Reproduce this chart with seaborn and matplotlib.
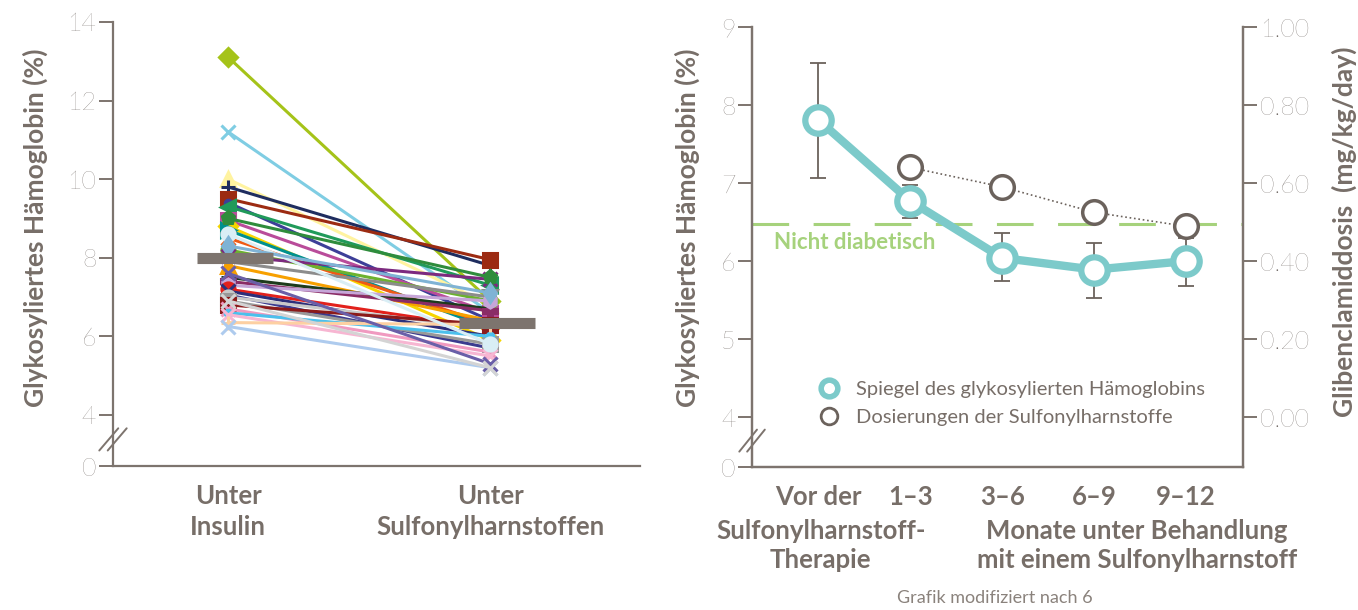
import numpy as np
import pandas as pd
import matplotlib.pyplot as plt
import seaborn as sns
from matplotlib.lines import Line2D

# ---------------- Daten ----------------
# Links: HbA1c je Patient unter Insulin bzw. unter Sulfonylharnstoffen
zustaende = ["Unter\nInsulin", "Unter\nSulfonylharnstoffen"]
hba1c_insulin = [13.1, 11.2, 10.0, 9.8, 9.5, 9.4, 9.3, 8.95, 8.8, 8.7, 8.5, 8.2, 8.05, 7.9,
                 7.8, 7.5, 7.4, 7.3, 7.2, 7.15, 7.05, 7.0, 6.9, 6.8, 6.7, 6.6, 6.55, 6.35,
                 6.25, 7.6, 8.6, 6.9, 9.0, 8.3]
hba1c_sulfo = [6.9, 6.6, 6.8, 7.8, 7.95, 6.4, 7.3, 6.6, 5.9, 6.2, 6.3, 6.9, 7.45, 7.0,
               6.4, 6.7, 6.65, 6.9, 6.2, 6.0, 5.7, 6.2, 5.8, 6.3, 5.6, 6.0, 5.5, 6.3,
               5.2, 5.3, 5.8, 5.2, 7.5, 7.1]
farben = ["#a5c319", "#7fcde3", "#fff3a0", "#1f2d5f", "#9c2b12", "#3d3f98", "#219a5a",
          "#b94c9a", "#f7d500", "#00908f", "#f05a14", "#6cb22f", "#7c2a7f", "#8c8c8c",
          "#f7a000", "#1d3b1c", "#8a2c66", "#c6a6d8", "#e2211c", "#2c2f7a", "#3b3b8f",
          "#c8c8c8", "#999999", "#8b1a1a", "#f09ac0", "#4cc0ec", "#f7b6d2", "#fdd0a2",
          "#aecbee", "#6a5fa8", "#d9eef5", "#d4d4d4", "#2f8c3c", "#7fb3d5"]
marker = ["D", "x", "^", "+", "s", ".", "<", "s", "D", ">", "x", "o", "x", "v",
          "^", "_", "P", "h", "o", "x", "_", "o", "s", "s", "x", ".", "x", "+",
          "x", "x", "o", "x", "p", "d"]
mittelwerte = [8.0, 6.33]

# Rechts: Verlauf nach Umstellung
zeitpunkte = ["Vor der", "1–3", "3–6", "6–9", "9–12"]
hba1c_mittel = [7.81, 6.77, 6.04, 5.89, 6.0]
hba1c_fehler_oben = [8.54, 6.98, 6.36, 6.23, 6.29]
hba1c_fehler_unten = [7.07, 6.55, 5.75, 5.53, 5.68]
dosis_zeitpunkte = ["1–3", "3–6", "6–9", "9–12"]
dosis = [0.64, 0.59, 0.525, 0.489]
nicht_diabetisch = 6.47

# ---------------- Stil ----------------
sns.set_theme(style="white")
plt.rcParams["font.family"] = ["Lato", "DejaVu Sans"]
grau = "#7d746e"
text_grau = "#776e68"
zahl_grau = "#655d58"
tuerkis = "#7ccaca"
dosis_grau = "#6b625c"
gruen = "#a6d27c"

fig = plt.figure(figsize=(13.58, 6.1), dpi=100)
fig.patch.set_facecolor("white")


def achse_stylen(ax):
    for s in ["left", "bottom", "right"]:
        ax.spines[s].set_color(grau)
        ax.spines[s].set_linewidth(1.6)
    ax.spines["top"].set_visible(False)
    ax.tick_params(axis="y", colors=grau, labelcolor=zahl_grau, length=10, width=1.4,
                   labelsize=18, pad=2, left=True)
    ax.tick_params(axis="x", length=0, labelcolor=text_grau, labelsize=18.5, pad=13)
    for lab in ax.get_yticklabels():
        lab.set_fontweight("light")
    for lab in ax.get_xticklabels():
        lab.set_fontweight("bold")


def achsenbruch(ax):
    for dx in [-0.008, 0.008]:
        ax.plot([-0.018 + dx, 0.018 + dx], [0.035, 0.085], transform=ax.transAxes,
                color=grau, lw=1.4, clip_on=False)


# ---------------- Linkes Diagramm ----------------
ax1 = fig.add_axes([0.0832, 0.236, 0.388, 0.728])
x_pos = np.arange(len(zustaende))
for i in range(len(hba1c_insulin)):
    df_p = pd.DataFrame({"x": x_pos, "wert": [hba1c_insulin[i], hba1c_sulfo[i]]})
    sns.lineplot(data=df_p, x="x", y="wert", color=farben[i], marker=marker[i],
                 markersize=9.5, markeredgewidth=2.2, markeredgecolor=farben[i],
                 linewidth=2.2, ax=ax1, sort=False)
ax1.hlines(mittelwerte, x_pos - 0.12, x_pos + 0.17, color="#7d746e", lw=8, zorder=5)

ax1.set_ylim(2.7, 14)
ax1.set_xlim(-0.44, 1.57)
ax1.set_yticks([2.7, 4, 6, 8, 10, 12, 14])
ax1.set_yticklabels(["0", "4", "6", "8", "10", "12", "14"])
ax1.set_xticks(x_pos)
ax1.set_xticklabels(zustaende, linespacing=1.35)
ax1.spines["right"].set_visible(False)
achse_stylen(ax1)
ax1.set_xlabel("")
ax1.set_ylabel("Glykosyliertes Hämoglobin (%)", fontsize=19, fontweight="bold",
               color=text_grau)
ax1.yaxis.set_label_coords(-0.123, 0.536)
achsenbruch(ax1)

# ---------------- Rechtes Diagramm ----------------
ax2 = fig.add_axes([0.5538, 0.2344, 0.3616, 0.7213])
x2 = np.arange(len(zeitpunkte))
ax2.axhline(nicht_diabetisch, color=gruen, lw=2.2, dashes=(12, 8), zorder=1)
ax2.errorbar(x2, hba1c_mittel,
             yerr=[np.array(hba1c_mittel) - np.array(hba1c_fehler_unten),
                   np.array(hba1c_fehler_oben) - np.array(hba1c_mittel)],
             fmt="none", ecolor=dosis_grau, elinewidth=1.3, capsize=6, capthick=1.3, zorder=2)
df_h = pd.DataFrame({"x": x2, "wert": hba1c_mittel})
sns.lineplot(data=df_h, x="x", y="wert", color=tuerkis, linewidth=6, marker="o",
             markersize=19, markerfacecolor="white", markeredgecolor=tuerkis,
             markeredgewidth=4.5, ax=ax2, zorder=3)
ax2.text(0.045, (nicht_diabetisch - 0.1 - 3.36) / (9 - 3.36), "Nicht diabetisch",
         transform=ax2.transAxes, color=gruen, fontsize=16, fontweight="bold", va="top")

ax2.set_ylim(3.36, 9)
ax2.set_xlim(-0.72, 4.62)
ax2.set_yticks([3.36, 4, 5, 6, 7, 8, 9])
ax2.set_yticklabels(["0", "4", "5", "6", "7", "8", "9"])
ax2.set_xticks(x2)
ax2.set_xticklabels(zeitpunkte)
achse_stylen(ax2)
ax2.set_xlabel("")
ax2.set_ylabel("Glykosyliertes Hämoglobin (%)", fontsize=19, fontweight="bold",
               color=text_grau)
ax2.yaxis.set_label_coords(-0.106, 0.543)
achsenbruch(ax2)
ax2.text(0.14, -0.118, "Sulfonylharnstoff-\nTherapie", transform=ax2.transAxes,
         ha="center", va="top", fontsize=18.5, fontweight="bold", color=text_grau,
         linespacing=1.25)
ax2.text(0.784, -0.118, "Monate unter Behandlung\nmit einem Sulfonylharnstoff",
         transform=ax2.transAxes, ha="center", va="top", fontsize=18.5, fontweight="bold",
         color=text_grau, linespacing=1.25)

# Dosis auf zweiter Achse
ax3 = ax2.twinx()
x3 = [zeitpunkte.index(z) for z in dosis_zeitpunkte]
df_d = pd.DataFrame({"x": x3, "dosis": dosis})
sns.lineplot(data=df_d, x="x", y="dosis", color=dosis_grau, linewidth=1.2, linestyle=":",
             marker="o", markersize=17, markerfacecolor="white", markeredgecolor=dosis_grau,
             markeredgewidth=2.5, ax=ax3)
ax3.set_ylim(-0.128, 1.0)
ax3.set_yticks([0, 0.2, 0.4, 0.6, 0.8, 1.0])
ax3.set_yticklabels(["0.00", "0.20", "0.40", "0.60", "0.80", "1.00"])
for s in ["left", "bottom", "right"]:
    ax3.spines[s].set_color(grau)
    ax3.spines[s].set_linewidth(1.6)
ax3.spines["top"].set_visible(False)
ax3.tick_params(axis="y", colors=grau, labelcolor=zahl_grau, length=10, width=1.4,
                labelsize=18, pad=2, right=True)
for lab in ax3.get_yticklabels():
    lab.set_fontweight("light")
ax3.set_ylabel("Glibenclamiddosis  (mg/kg/day)", fontsize=19, fontweight="bold",
               color=text_grau)
ax3.yaxis.set_label_coords(1.18, 0.535)

# Legende
griffe = [
    Line2D([], [], ls="none", marker="o", markersize=12, markerfacecolor="white",
           markeredgecolor=tuerkis, markeredgewidth=4),
    Line2D([], [], ls="none", marker="o", markersize=12, markerfacecolor="white",
           markeredgecolor=dosis_grau, markeredgewidth=2),
]
leg = ax3.legend(griffe, ["Spiegel des glykosylierten Hämoglobins",
                          "Dosierungen der Sulfonylharnstoffe"],
                 loc="upper left", bbox_to_anchor=(0.1, 0.215), frameon=False,
                 fontsize=14.5, handletextpad=0.3, labelspacing=0.55, borderaxespad=0)
for t in leg.get_texts():
    t.set_color(text_grau)

fig.text(995 / 1358, 1 - 598 / 610, "Grafik modifiziert nach 6", ha="center", va="center",
         fontsize=13, color="#8a827c")

plt.savefig("out.png", dpi=100)
